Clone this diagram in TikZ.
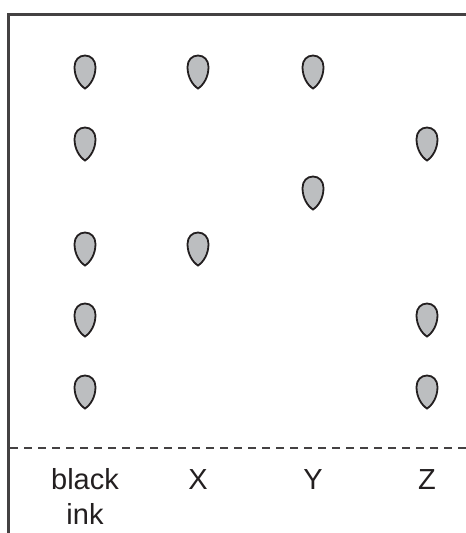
\documentclass[tikz,border=0pt]{standalone}
\usepackage{fontspec}
\setmainfont{Liberation Sans}
\definecolor{spotgray}{RGB}{188,190,192}
\definecolor{inkline}{RGB}{35,31,32}

\begin{document}
\begin{tikzpicture}[x=1pt,y=-1pt]
\tikzset{spot/.pic = {\draw[inkline,line width=1.8pt,fill=spotgray]
  (0,16.5) .. controls (-5.5,13) and (-10.5,5) .. (-10.5,-5)
  .. controls (-10.5,-12) and (-6,-16.5) .. (0,-16.5)
  .. controls (6,-16.5) and (10.5,-12) .. (10.5,-5)
  .. controls (10.5,5) and (5.5,13) .. (0,16.5) -- cycle;}}
\tikzset{lane/.style = {anchor=base, align=center, text=inkline,
  font=\fontsize{29}{35}\selectfont}}
\useasboundingbox (0,0) rectangle (466,533);
% frame and base line
\coordinate (cornerB) at (8.7,533);
\coordinate (cornerTL) at (8.7,14.5);
\coordinate (cornerTR) at (466,14.5);
\draw[inkline!85,line width=2.7pt] (cornerB) -- (cornerTL) -- (cornerTR);
\coordinate (baseL) at (10,448);
\coordinate (baseR) at (466,448);
\draw[inkline!85,line width=1.1pt,dash pattern=on 8.3pt off 5.7pt] (baseL) -- (baseR);
% spots
\pic (ink1) at (85,72)  {spot};
\pic (ink2) at (85,144) {spot};
\pic (ink3) at (85,249) {spot};
\pic (ink4) at (85,320) {spot};
\pic (ink5) at (85,392) {spot};
\pic (x1) at (198,72)  {spot};
\pic (x2) at (198,249) {spot};
\pic (y1) at (313,72)  {spot};
\pic (y2) at (313,193) {spot};
\pic (z1) at (427,144) {spot};
\pic (z2) at (427,320) {spot};
\pic (z3) at (427,392) {spot};
% labels (multi-line node sits on its last line)
\node[lane] (labink) at (85,524) {black\\ink};
\node[lane] (labx) at (198,489) {X};
\node[lane] (laby) at (313,489) {Y};
\node[lane] (labz) at (427,489) {Z};
\end{tikzpicture}
\end{document}
